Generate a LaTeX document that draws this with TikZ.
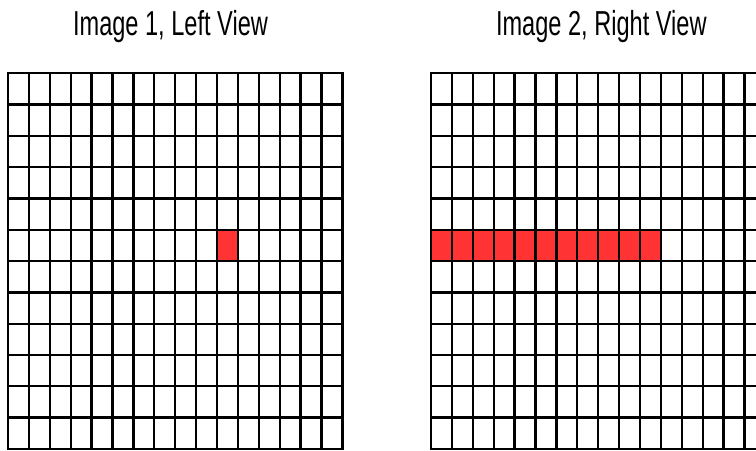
\documentclass[tikz,border=0pt]{standalone}
\usepackage{fontspec}
\newfontfamily\narrowsans[FakeStretch=0.68]{Liberation Sans}
\usepackage{tikz}
\usetikzlibrary{positioning}
\definecolor{hitred}{RGB}{255,51,51}
\newcommand{\cellw}{20.9}
\newcommand{\cellh}{31.3}

\begin{document}
\begin{tikzpicture}[x=0.75pt, y=-0.75pt,
  gridline/.style={line width=1.7pt, black, line cap=rect},
  hit/.style={fill=hitred, draw=none},
  title/.style={font=\narrowsans\fontsize{26}{30}\selectfont, anchor=base, inner sep=0pt}]
  \useasboundingbox (0,0) rectangle (756,450);
  \clip (0,0) rectangle (756,450);
  % titles
  \node[title] (lefttitle)  at (170.5,35) {Image 1, Left View};
  \node[title] (righttitle) at (601.3,35) {Image 2, Right View};
  % matched pixel and candidate row
  \fill[hit] (8+10*\cellw, 73.3+5*\cellh) rectangle +(\cellw,\cellh);
  \fill[hit] (431, 73.3+5*\cellh) rectangle +(11*\cellw,\cellh);
  % left grid
  \foreach \i in {0,...,16}
    \draw[gridline] (8+\i*\cellw, 73.3) -- (8+\i*\cellw, 73.3+12*\cellh);
  \foreach \j in {0,...,12}
    \draw[gridline] (8, 73.3+\j*\cellh) -- (8+16*\cellw, 73.3+\j*\cellh);
  % right grid
  \foreach \i in {0,...,16}
    \draw[gridline] (431+\i*\cellw, 73.3) -- (431+\i*\cellw, 73.3+12*\cellh);
  \foreach \j in {0,...,12}
    \draw[gridline] (431, 73.3+\j*\cellh) -- (431+16*\cellw, 73.3+\j*\cellh);
\end{tikzpicture}
\end{document}
